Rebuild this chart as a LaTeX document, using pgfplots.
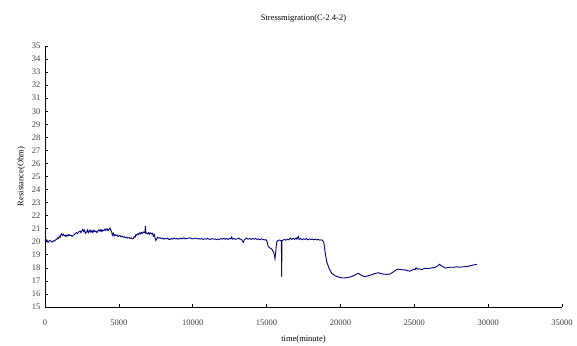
\documentclass[border=0pt]{standalone}
\usepackage{pgfplots}
\pgfplotsset{compat=1.18}
\usepackage{fontspec}
\setmainfont{Liberation Serif}
\definecolor{navyline}{RGB}{0,0,128}
\begin{document}
\begin{tikzpicture}[font=\fontsize{8.5}{10}\selectfont]
\useasboundingbox (-45pt,-38pt) rectangle (532pt,307pt);
\begin{axis}[
  at={(0pt,0pt)}, anchor=origin,
  scale only axis, width=517pt, height=261pt,
  xmin=0, xmax=35000, ymin=15, ymax=35,
  xtick={0,5000,...,35000}, ytick={15,16,...,35},
  axis x line*=bottom, axis y line*=left,
  axis line style={black, line width=0.8pt},
  tick style={black, line width=0.7pt},
  tick align=inside,
  major tick length=3.5pt,
  /pgf/number format/assume math mode=true,
  scaled x ticks=false,
  xticklabel style={/pgf/number format/1000 sep={}, text=black!75, yshift=-9pt},
  yticklabel style={text=black!75, xshift=-1pt},
  xlabel={time(minute)}, ylabel={Resistance(Ohm)},
  xlabel style={yshift=-3pt},
  ylabel style={yshift=0pt},
  title={Stressmigration(C-2.4-2)},
  title style={yshift=14pt},
  clip=false,
]
\addplot[navyline, line width=0.9pt] coordinates {
(0,20.10)(60,20.05)(120,20.15)(200,19.95)(260,20.05)(340,20.10)(420,20.00)(500,19.98)(560,20.08)(640,20.05)(720,20.15)(790,20.18)(850,20.30)(920,20.25)(970,20.42)(1030,20.35)(1080,20.55)(1130,20.62)(1180,20.50)(1240,20.58)(1300,20.45)(1354,20.50)(1420,20.40)(1480,20.52)(1550,20.45)(1620,20.55)(1693,20.47)(1760,20.50)(1830,20.42)(1918,20.50)(1990,20.55)(2060,20.65)(2130,20.70)(2200,20.62)(2280,20.75)(2370,20.82)(2430,20.70)(2500,20.85)(2560,20.95)(2620,20.78)(2680,20.88)(2740,20.65)(2821,20.75)(2880,20.90)(2940,20.70)(3000,20.82)(3047,20.90)(3110,20.72)(3170,20.85)(3240,20.70)(3300,20.88)(3385,20.77)(3450,20.82)(3520,20.70)(3600,20.85)(3660,20.92)(3724,20.80)(3790,20.95)(3850,20.78)(3920,20.90)(3990,20.85)(4062,20.97)(4130,20.88)(4200,21.00)(4270,20.85)(4340,20.98)(4401,21.05)(4450,20.90)(4514,20.75)(4560,20.50)(4620,20.65)(4680,20.45)(4739,20.55)(4800,20.48)(4880,20.52)(4950,20.40)(5010,20.45)(5078,20.47)(5150,20.38)(5230,20.42)(5300,20.35)(5380,20.38)(5450,20.30)(5530,20.35)(5600,20.28)(5680,20.32)(5760,20.25)(5850,20.30)(5920,20.22)(5981,20.25)(6040,20.40)(6100,20.35)(6150,20.55)(6207,20.50)(6280,20.62)(6350,20.55)(6420,20.70)(6480,20.60)(6546,20.72)(6600,20.65)(6680,20.75)(6760,20.70)(6800,21.22)(6830,20.65)(6885,20.67)(6950,20.60)(7020,20.70)(7080,20.58)(7150,20.68)(7223,20.60)(7280,20.65)(7336,20.42)(7400,20.55)(7450,20.30)(7500,20.10)(7562,20.22)(7620,20.35)(7700,20.28)(7786,20.30)(7870,20.25)(7950,20.28)(8030,20.20)(8120,20.25)(8200,20.22)(8300,20.28)(8380,20.18)(8463,20.17)(8550,20.25)(8640,20.20)(8730,20.28)(8820,20.22)(8900,20.25)(9000,20.20)(9080,20.25)(9140,20.22)(9230,20.28)(9320,20.23)(9400,20.30)(9500,20.22)(9600,20.25)(9700,20.28)(9817,20.30)(9900,20.25)(10000,20.22)(10100,20.25)(10200,20.28)(10300,20.22)(10400,20.25)
(10500,20.20)(10600,20.24)(10700,20.18)(10800,20.22)(10900,20.20)(11000,20.26)(11100,20.20)(11200,20.18)(11300,20.24)(11400,20.20)(11500,20.22)(11600,20.16)(11700,20.20)(11800,20.18)(11900,20.24)(12000,20.20)(12100,20.26)(12200,20.20)(12300,20.24)(12400,20.18)(12500,20.26)(12580,20.22)(12640,20.36)(12700,20.20)(12800,20.26)(12900,20.18)(13000,20.22)(13100,20.28)(13200,20.20)(13300,20.18)(13380,20.02)(13430,19.95)(13480,20.12)(13550,20.20)(13650,20.28)(13750,20.20)(13850,20.25)(13950,20.18)(14050,20.25)(14150,20.20)(14250,20.26)(14350,20.18)(14450,20.22)(14550,20.15)(14650,20.22)(14750,20.18)(14850,20.14)(14950,20.16)(15010,20.07)(15120,19.62)(15230,19.52)(15350,19.44)(15420,19.30)(15480,19.20)(15540,18.90)(15570,18.70)(15610,19.10)(15650,19.60)(15690,20.00)(15750,20.08)(15850,20.13)(15960,20.10)(16000,20.05)(16020,17.33)(16045,20.10)(16120,20.12)(16200,20.18)(16300,20.12)(16400,20.20)(16500,20.15)(16600,20.28)(16700,20.18)(16800,20.25)(16900,20.18)(17000,20.30)(17050,20.20)(17150,20.40)(17200,20.18)(17300,20.25)(17400,20.15)(17500,20.22)(17600,20.18)(17700,20.25)(17800,20.15)(17900,20.22)(18000,20.18)(18100,20.20)(18200,20.15)(18300,20.20)(18400,20.14)(18500,20.18)(18600,20.12)(18700,20.15)(18800,20.10)(18880,19.90)(18960,19.24)(19070,18.47)(19230,17.96)(19410,17.58)(19630,17.40)(19800,17.32)(19970,17.26)(20200,17.22)(20430,17.25)(20650,17.30)(20850,17.38)(21050,17.50)(21210,17.58)(21350,17.48)(21500,17.38)(21670,17.33)(21850,17.38)(22050,17.45)(22300,17.55)(22570,17.63)(22680,17.58)(22900,17.52)(23130,17.50)(23360,17.53)(23600,17.70)(23780,17.85)(23920,17.90)(24150,17.86)(24370,17.84)(24550,17.78)(24710,17.74)(24850,17.82)(24950,17.90)(25050,17.86)(25120,18.00)(25200,17.90)(25350,17.92)(25500,17.86)(25610,17.92)(25730,17.96)(25900,17.94)(26100,17.98)(26290,18.02)(26450,18.05)(26630,18.20)(26700,18.27)(26800,18.18)(26950,18.10)(27080,17.98)(27250,18.02)(27450,18.05)(27650,18.04)(27850,18.08)(28100,18.05)(28300,18.08)(28550,18.10)(28750,18.15)(29000,18.22)(29230,18.27)
};
\end{axis}
\end{tikzpicture}
\end{document}
